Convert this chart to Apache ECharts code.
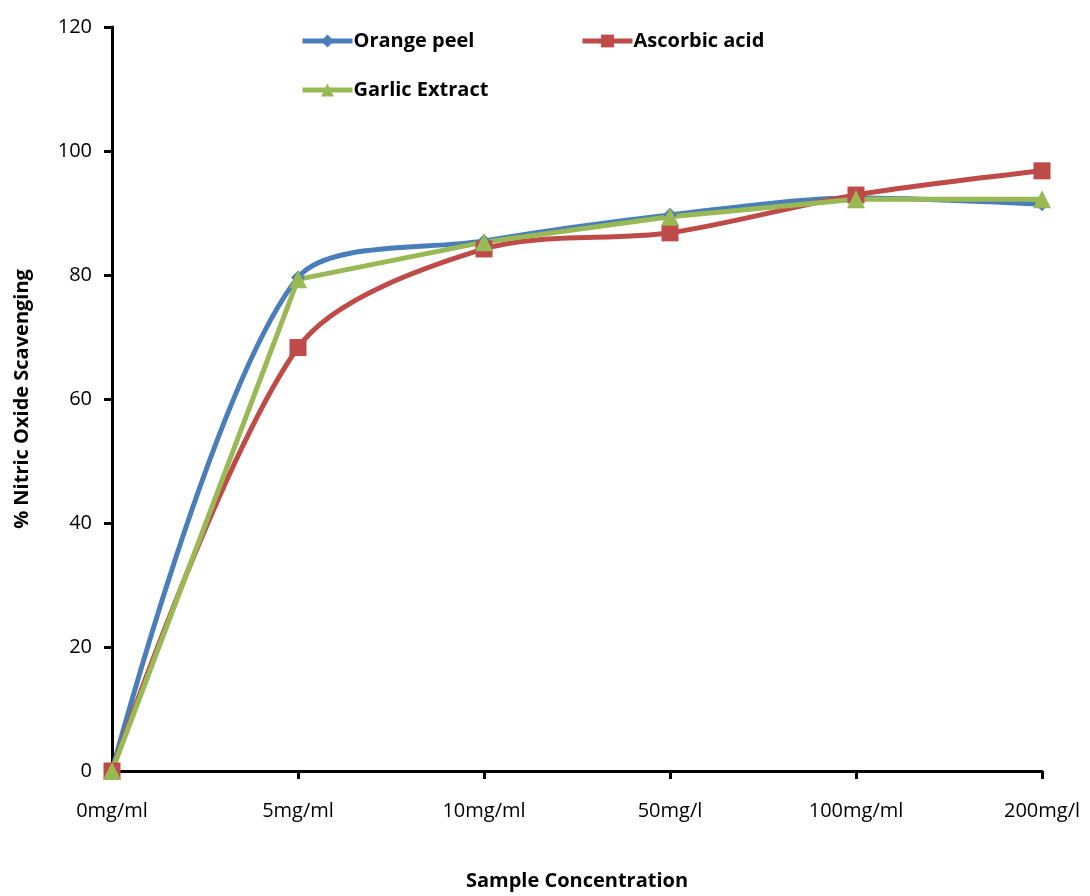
<!DOCTYPE html>
<html>
<head>
<meta charset="utf-8">
<script src="https://cdn.jsdelivr.net/npm/echarts@6/dist/echarts.min.js"></script>
<style>
  html, body { margin: 0; padding: 0; background: #fff; }
  #chart { width: 1090px; height: 896px; }
</style>
</head>
<body>
<div id="chart"></div>
<script>
const categories = ['0mg/ml', '5mg/ml', '10mg/ml', '50mg/l', '100mg/ml', '200mg/l']
const orangePeel = [0, 79.6, 85.5, 89.7, 92.4, 91.4]
const ascorbicAcid = [0, 68.3, 84.2, 86.8, 92.9, 96.8]
const garlicExtract = [0, 79.3, 85.3, 89.4, 92.2, 92.2]

const font = '"Liberation Sans Narrow", "Open Sans", sans-serif'
const chart = echarts.init(document.getElementById('chart'))

function legendAt(name, left, top) {
  return {
    data: [name],
    left: left,
    top: top,
    itemWidth: 50,
    itemHeight: 16,
    lineStyle: { width: 5 },
    textStyle: { fontFamily: font, fontSize: 20, fontWeight: 'bold', color: '#000', padding: [0, 0, 0, -4] }
  }
}

chart.setOption({
  animation: false,
  legend: [
    legendAt('Orange peel', 295, 26),
    legendAt('Ascorbic acid', 575, 26),
    legendAt('Garlic Extract', 295, 75)
  ],
  grid: { left: 112, right: 48, top: 27, bottom: 121 },
  xAxis: {
    type: 'category',
    data: categories,
    boundaryGap: false,
    name: 'Sample Concentration',
    nameLocation: 'middle',
    nameGap: 100,
    nameTextStyle: { fontFamily: font, fontSize: 20, fontWeight: 'bold', color: '#000' },
    axisLine: { lineStyle: { color: '#000', width: 3 } },
    axisTick: { alignWithLabel: true, length: 8, lineStyle: { color: '#000', width: 3 } },
    axisLabel: { fontFamily: font, fontSize: 20, color: '#000', margin: 30 }
  },
  yAxis: {
    type: 'value',
    min: 0,
    max: 120,
    interval: 20,
    name: '% Nitric Oxide Scavenging',
    nameLocation: 'middle',
    nameGap: 80,
    nameTextStyle: { fontFamily: font, fontSize: 20, fontWeight: 'bold', color: '#000' },
    splitLine: { show: false },
    axisLine: { show: true, lineStyle: { color: '#000', width: 3 } },
    axisTick: { show: true, length: 8, lineStyle: { color: '#000', width: 3 } },
    axisLabel: { fontFamily: font, fontSize: 20, color: '#000', margin: 20 }
  },
  series: [
    {
      name: 'Orange peel',
      type: 'line',
      data: orangePeel,
      smooth: 0.3,
      symbol: 'diamond',
      symbolSize: 14,
      color: '#4A7EBB',
      lineStyle: { width: 5 }
    },
    {
      name: 'Ascorbic acid',
      type: 'line',
      data: ascorbicAcid,
      smooth: 0.3,
      symbol: 'rect',
      symbolSize: 17,
      color: '#BE4B48',
      lineStyle: { width: 5 }
    },
    {
      name: 'Garlic Extract',
      type: 'line',
      data: garlicExtract,
      symbol: 'triangle',
      symbolSize: 18,
      color: '#98B954',
      lineStyle: { width: 5 }
    }
  ]
})
</script>
</body>
</html>
